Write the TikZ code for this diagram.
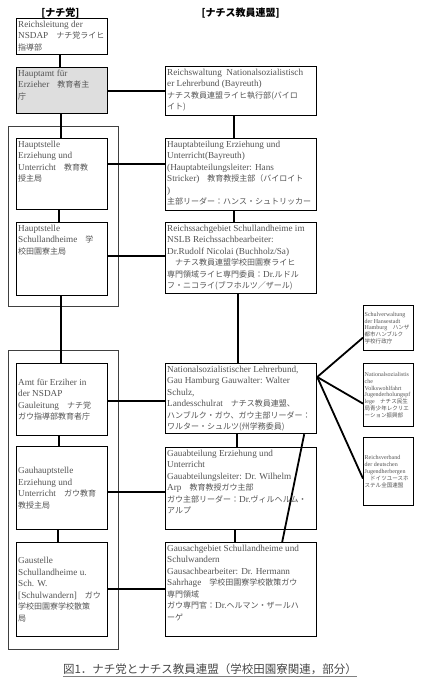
\documentclass[tikz,border=0pt]{standalone}
\usepackage{fontspec}
\setmainfont{Liberation Serif}
\newfontfamily\jpm[Scale=0.87]{Noto Sans CJK JP}
\newfontfamily\jps[Scale=0.92]{Noto Sans CJK JP}
\newfontfamily\jpg{Noto Sans CJK JP}
\let\jpcur\jpm
\newcommand\J[1]{{\jpcur #1}}
\definecolor{txtgray}{gray}{0.33}
\begin{document}
\begin{tikzpicture}[x=1pt,y=-1pt,
  box/.style={draw=black, line width=1.2pt, fill=white, inner sep=0pt, anchor=north west},
  hbox/.style={box, fill=black!13},
  grp/.style={draw=black!75, line width=0.8pt},
  txt/.style={anchor=north west, align=left, inner xsep=2pt, inner ysep=2.5pt,
    font=\fontsize{9.2}{11.5}\selectfont\let\jpcur\jpm, text=txtgray},
  ctxt/.style={txt, anchor=west},
  stxt/.style={anchor=west, align=left, inner xsep=1.5pt, inner ysep=0pt,
    font=\fontsize{6}{6.9}\selectfont\let\jpcur\jps, text=txtgray},
  conn/.style={line width=1.8pt},
  hdr/.style={font=\jpg\bfseries\fontsize{10}{12}\selectfont, text=black}]
\useasboundingbox (0,0) rectangle (424,678);

% headers
\node[hdr] (h1) at (60.5,13) {[ナチ党]};
\node[hdr] (h2) at (240.5,13) {[ナチス教員連盟]};

% groups
\draw[grp] (8,126) rectangle (118,306);
\draw[grp] (8,350) rectangle (118,649);

% left column
\node[box, minimum width=91pt, minimum height=36pt] (a) at (16,18) {};
\node[txt] (at) at (a.north west) {Reichsleitung der\\NSDAP\J{　ナチ党ライヒ}\\\J{指導部}};
\node[hbox, minimum width=91pt, minimum height=46pt] (b) at (16,67) {};
\node[txt] (bt) at (b.north west) {Hauptamt für\\Erzieher\J{　教育者主}\\\J{庁}};
\node[box, minimum width=91pt, minimum height=71pt] (l1) at (16,138) {};
\node[txt] (l1t) at (l1.north west) {Hauptstelle\\Erziehung und\\Unterricht\J{　教育教}\\\J{授主局}};
\node[box, minimum width=91pt, minimum height=73pt] (l2) at (16,222) {};
\node[txt] (l2t) at (l2.north west) {Hauptstelle\\Schullandheime\J{　学}\\\J{校田園寮主局}};
\node[box, minimum width=91pt, minimum height=72pt] (l3) at (16,363) {};
\node[ctxt] (l3t) at (l3.west) {Amt für Erziher in\\der NSDAP\\Gauleitung\J{　ナチ党}\\\J{ガウ指導部教育者庁}};
\node[box, minimum width=91pt, minimum height=83pt] (l4) at (16,446) {};
\node[ctxt] (l4t) at (l4.west) {Gauhauptstelle\\Erziehung und\\Unterricht\J{　ガウ教育}\\\J{教授主局}};
\node[box, minimum width=91pt, minimum height=94pt] (l5) at (16,542) {};
\node[ctxt] (l5t) at (l5.west) {Gaustelle\\Schullandheime u.\\Sch. W.\\{[}Schulwandern]\J{　ガウ}\\\J{学校田園寮学校散策}\\\J{局}};

% right column
\node[box, minimum width=151pt, minimum height=49pt] (r1) at (165,66) {};
\node[txt] (r1t) at (r1.north west) {Reichswaltung\ \ Nationalsozialistisch\\er Lehrerbund (Bayreuth)\\\J{ナチス教員連盟ライヒ執行部(バイロ}\\\J{イト)}};
\node[box, minimum width=151pt, minimum height=72pt] (r2) at (165,138) {};
\node[txt] (r2t) at (r2.north west) {Hauptabteilung Erziehung und\\Unterricht(Bayreuth)\\(Hauptabteilungsleiter: Hans\\Stricker)\J{　教育教授主部（バイロイト}\\)\\\J{主部リーダー：ハンス・シュトリッカー}};
\node[box, minimum width=151pt, minimum height=71pt] (r3) at (165,222) {};
\node[txt] (r3t) at (r3.north west) {Reichssachgebiet Schullandheime im\\NSLB Reichssachbearbeiter:\\Dr.Rudolf Nicolai (Buchholz/Sa)\\\J{　ナチス教員連盟学校田園寮ライヒ}\\\J{専門領域ライヒ専門委員：}Dr.\J{ルドル}\\\J{フ・ニコライ(ブフホルツ／ザール)}};
\node[box, minimum width=151pt, minimum height=70pt] (r4) at (165,363) {};
\node[txt] (r4t) at (r4.north west) {Nationalsozialistischer Lehrerbund,\\Gau Hamburg Gauwalter: Walter\\Schulz,\\Landesschulrat\J{　ナチス教員連盟、}\\\J{ハンブルク・ガウ、ガウ主部リーダー：}\\\J{ワルター・シュルツ(州学務委員)}};
\node[box, minimum width=151pt, minimum height=82pt] (r5) at (165,447) {};
\node[txt] (r5t) at (r5.north west) {Gauabteilung Erziehung und\\Unterricht\\Gauabteilungsleiter: Dr. Wilhelm\\Arp\J{　教育教授ガウ主部}\\\J{ガウ主部リーダー：}Dr.\J{ヴィルヘルム・}\\\J{アルプ}};
\node[box, minimum width=151pt, minimum height=94pt] (r6) at (165,542) {};
\node[txt] (r6t) at (r6.north west) {Gausachgebiet Schullandheime und\\Schulwandern\\Gausachbearbeiter: Dr. Hermann\\Sahrhage\J{　学校田園寮学校散策ガウ}\\\J{専門領域}\\\J{ガウ専門官：}Dr.\J{ヘルマン・ザールハ}\\\J{ーゲ}};

% small boxes
\node[box, minimum width=50pt, minimum height=45pt] (s1) at (363,305) {};
\node[stxt] (s1t) at (s1.west) {Schulverwaltung\\der Hansestadt\\Hamburg\J{　ハンザ}\\\J{都市ハンブルク}\\\J{学校行政庁}};
\node[box, minimum width=50pt, minimum height=63pt] (s2) at (363,363) {};
\node[stxt] (s2t) at (s2.west) {Nationalsozialistis\\che\\Volkswohlfahrt\\Jugenderholungspf\\lege\J{　ナチス民生}\\\J{局青少年レクリエ}\\\J{ーション振興部}};
\node[box, minimum width=50pt, minimum height=68pt] (s3) at (363,437) {};
\node[stxt] (s3t) at (s3.west) {Reichsverband\\der deutschen\\Jugendherbergen\\\J{　ドイツユースホ}\\\J{ステル全国連盟}};

% connectors left
\draw[conn] ([xshift=-2.5pt]a.south) -- ([xshift=-2.5pt]b.north);
\draw[conn] ([xshift=-1.5pt]b.south) -- ([xshift=-1.5pt]l1.north);
\draw[conn] ([xshift=-3.5pt]l1.south) -- ([xshift=-3.5pt]l2.north);
\draw[conn] ([xshift=-1.5pt]l2.south) -- ([xshift=-1.5pt]l3.north);
\draw[conn] ([xshift=-3.5pt]l3.south) -- ([xshift=-3.5pt]l4.north);
\draw[conn] ([xshift=-4.5pt]l4.south) -- ([xshift=-4.5pt]l5.north);
% connectors right
\draw[conn] ([xshift=-7.5pt]r1.south) -- ([xshift=-7.5pt]r2.north);
\draw[conn] ([xshift=-7.5pt]r2.south) -- ([xshift=-7.5pt]r3.north);
\draw[conn] ([xshift=-3.5pt]r3.south) -- ([xshift=-3.5pt]r4.north);
\draw[conn] ([xshift=-4.5pt]r4.south) -- ([xshift=-4.5pt]r5.north);
\draw[conn] ([xshift=-6.5pt]r5.south) -- ([xshift=-6.5pt]r6.north);
% horizontal
\draw[conn] (b.east) -- (b.east -| r1.west);
\draw[conn] ([yshift=10.5pt]l1.east) -- ([yshift=10.5pt]l1.east -| r2.west);
\draw[conn] ([yshift=3.5pt]l2.east) -- ([yshift=3.5pt]l2.east -| r3.west);
\draw[conn] ([yshift=-1pt]l3.east) -- ([yshift=-1pt]l3.east -| r4.west);
\draw[conn] ([yshift=-3.5pt]l4.east) -- ([yshift=-3.5pt]l4.east -| r5.west);
\draw[conn] ([yshift=1pt]l5.east) -- ([yshift=1pt]l5.east -| r6.west);
% diagonal and fan
\draw[conn] ([xshift=-13pt]r4.south east) -- ([xshift=-35pt]r6.north east);
\coordinate (fan) at ([yshift=-14pt]r4.north east);
\draw[conn] (fan) -- ([yshift=-9.5pt]s1.west);
\draw[conn] (fan) -- ([yshift=-8.5pt]s2.west);
\draw[conn] (fan) -- ([yshift=-7pt]s3.west);

% caption
\node[font=\jpg\fontsize{11.5}{12}\selectfont, text=black!72, inner sep=0pt] (cap) at (210,669) {図1．ナチ党とナチス教員連盟（学校田園寮関連，部分）};
\draw[black!50, line width=0.8pt] ([yshift=-1.5pt]cap.south west) -- ([yshift=-1.5pt]cap.south east);
\end{tikzpicture}
\end{document}
